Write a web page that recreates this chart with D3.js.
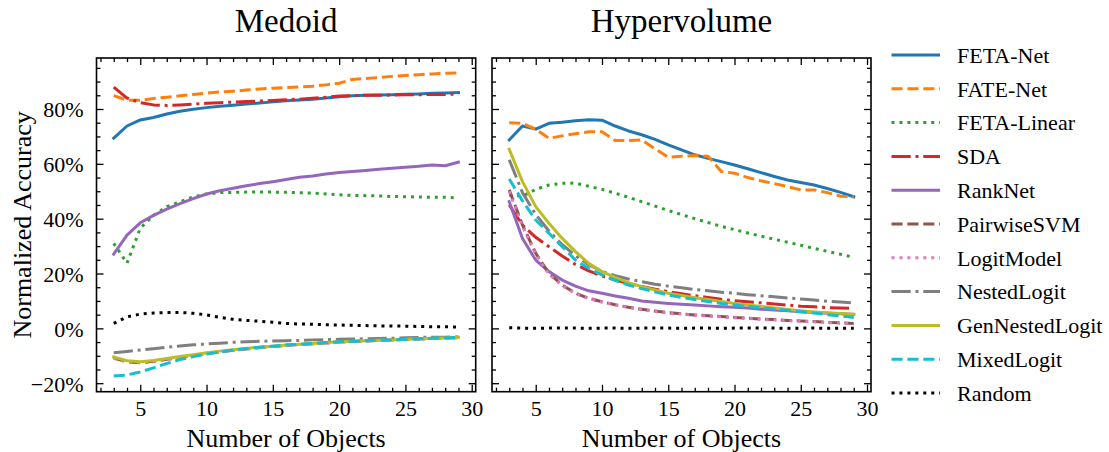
<!DOCTYPE html>
<html>
<head>
<meta charset="utf-8">
<script src="https://cdn.jsdelivr.net/npm/d3@7"></script>
<style>
    body { margin: 0; background: #fff; }
    svg text { font-family: "Liberation Serif", "Times New Roman", serif !important; fill: #000; }
</style>
</head>
<body>
<div id="chart"></div>
<script>
// x categories
const numObjects = [3, 4, 5, 6, 7, 8, 9, 10, 11, 12, 13, 14, 15, 16, 17, 18, 19, 20, 21, 22, 23, 24, 25, 26, 27, 28, 29];

const methods = ["FETA-Net", "FATE-Net", "FETA-Linear", "SDA", "RankNet", "PairwiseSVM", "LogitModel", "NestedLogit", "GenNestedLogit", "MixedLogit", "Random"];

// Medoid panel (normalized accuracy, %)
const medFetaNet = [69.4, 73.8, 76.0, 76.9, 78.2, 79.2, 79.9, 80.5, 81.0, 81.4, 81.8, 82.2, 82.6, 83.0, 83.3, 83.6, 84.0, 84.5, 84.8, 85.0, 85.1, 85.2, 85.4, 85.5, 85.7, 85.8, 86.0];
const medFateNet = [84.9, 83.2, 83.2, 83.8, 84.3, 84.8, 85.3, 85.8, 86.2, 86.5, 86.9, 87.3, 87.6, 87.8, 88.0, 88.3, 88.8, 89.4, 90.8, 91.1, 91.5, 91.9, 92.2, 92.5, 92.8, 93.0, 93.1];
const medFetaLinear = [31.0, 23.8, 36.5, 41.2, 44.4, 46.2, 47.9, 49.0, 49.5, 49.6, 49.7, 49.7, 49.7, 49.6, 49.5, 49.3, 49.0, 48.7, 48.5, 48.4, 48.3, 48.1, 48.0, 47.9, 47.8, 47.8, 47.6];
const medSDA = [88.0, 84.0, 82.3, 81.5, 81.3, 81.5, 81.8, 82.1, 82.3, 82.5, 82.7, 82.9, 83.1, 83.4, 83.6, 83.9, 84.3, 84.7, 84.9, 85.0, 85.0, 85.1, 85.2, 85.2, 85.3, 85.3, 85.4];
const medRankNet = [27.1, 34.0, 38.5, 41.2, 43.5, 45.5, 47.3, 49.0, 50.2, 51.1, 52.0, 52.8, 53.5, 54.3, 55.1, 55.6, 56.3, 56.8, 57.2, 57.6, 58.0, 58.4, 58.8, 59.1, 59.6, 59.3, 60.6];
const medPairwiseSVM = [-10.8, -12.2, -12.5, -12.0, -11.3, -10.6, -9.9, -9.2, -8.6, -8.0, -7.5, -7.0, -6.6, -6.2, -5.9, -5.6, -5.3, -5.0, -4.8, -4.6, -4.4, -4.2, -4.0, -3.9, -3.7, -3.5, -3.4];
const medLogitModel = [-10.9, -12.3, -12.5, -12.0, -11.4, -10.7, -10.0, -9.3, -8.6, -8.0, -7.5, -7.0, -6.6, -6.2, -5.9, -5.6, -5.3, -5.0, -4.8, -4.6, -4.4, -4.2, -4.0, -3.9, -3.7, -3.5, -3.4];
const medNestedLogit = [-8.9, -8.4, -7.9, -7.4, -6.9, -6.4, -6.0, -5.7, -5.4, -5.1, -4.9, -4.7, -4.6, -4.5, -4.4, -4.2, -4.1, -4.0, -3.9, -3.8, -3.7, -3.6, -3.4, -3.3, -3.2, -3.2, -3.1];
const medGenNestedLogit = [-10.4, -11.8, -12.2, -11.7, -11.0, -10.3, -9.6, -8.9, -8.3, -7.8, -7.3, -6.9, -6.5, -6.1, -5.8, -5.5, -5.2, -4.9, -4.7, -4.5, -4.3, -4.2, -4.0, -3.8, -3.6, -3.5, -3.3];
const medMixedLogit = [-17.4, -17.0, -15.9, -14.4, -12.8, -11.4, -10.3, -9.4, -8.6, -7.9, -7.3, -6.9, -6.5, -6.1, -5.8, -5.5, -5.2, -4.9, -4.7, -4.5, -4.3, -4.2, -4.0, -3.8, -3.6, -3.5, -3.3];
const medRandom = [1.8, 4.2, 5.2, 5.6, 5.8, 5.8, 5.5, 4.9, 4.0, 3.3, 2.9, 2.6, 2.2, 1.8, 1.6, 1.5, 1.3, 1.2, 1.1, 1.0, 0.9, 0.9, 0.8, 0.7, 0.6, 0.6, 0.5];

// Hypervolume panel (normalized accuracy, %)
const hvFetaNet = [68.7, 73.8, 72.7, 74.8, 75.2, 75.7, 76.1, 75.9, 73.8, 72.0, 70.6, 68.9, 66.9, 65.1, 63.3, 62.0, 60.8, 59.6, 58.2, 56.8, 55.4, 54.1, 53.2, 52.3, 51.0, 49.6, 48.0];
const hvFateNet = [75.0, 74.8, 72.6, 69.3, 70.2, 71.0, 71.7, 71.7, 68.5, 68.5, 68.7, 65.5, 62.4, 62.8, 63.0, 62.8, 57.2, 56.6, 55.0, 53.8, 52.8, 51.7, 50.5, 50.5, 49.5, 48.2, 48.0];
const hvFetaLinear = [48.5, 48.2, 50.7, 52.3, 52.9, 53.0, 51.8, 50.7, 49.3, 47.8, 46.2, 44.6, 43.0, 41.5, 40.0, 38.6, 37.2, 36.0, 34.8, 33.6, 32.5, 31.4, 30.3, 29.2, 28.1, 27.0, 25.9];
const hvSDA = [45.0, 37.7, 33.2, 29.8, 26.4, 23.3, 21.0, 19.1, 17.6, 16.4, 15.3, 14.3, 13.4, 12.6, 11.9, 11.3, 10.6, 10.1, 9.7, 9.3, 8.9, 8.5, 8.1, 7.9, 7.6, 7.4, 7.3];
const hvRankNet = [46.2, 32.8, 24.9, 20.7, 17.6, 15.4, 13.7, 12.8, 11.8, 11.0, 10.0, 9.5, 9.1, 8.8, 8.5, 8.2, 7.9, 7.7, 7.4, 7.0, 6.7, 6.4, 6.1, 5.8, 5.5, 5.3, 5.1];
const hvPairwiseSVM = [50.5, 37.7, 27.4, 20.1, 15.8, 12.8, 11.0, 9.7, 8.6, 7.7, 7.0, 6.3, 5.7, 5.3, 4.9, 4.6, 4.3, 4.0, 3.7, 3.4, 3.2, 2.9, 2.7, 2.5, 2.2, 2.0, 1.8];
const hvLogitModel = [50.0, 37.2, 27.0, 19.8, 15.6, 12.6, 10.9, 9.6, 8.5, 7.6, 6.9, 6.2, 5.6, 5.2, 4.8, 4.5, 4.2, 3.9, 3.6, 3.3, 3.1, 2.8, 2.6, 2.4, 2.1, 1.9, 1.7];
const hvNestedLogit = [61.5, 49.5, 41.5, 35.5, 30.5, 26.5, 23.2, 20.8, 19.2, 18.0, 17.0, 16.1, 15.4, 14.8, 14.2, 13.7, 13.2, 12.8, 12.3, 11.9, 11.5, 11.1, 10.7, 10.3, 9.9, 9.6, 9.3];
const hvGenNestedLogit = [65.3, 53.5, 44.4, 38.3, 32.8, 28.0, 23.7, 20.7, 18.6, 16.7, 15.2, 14.0, 12.8, 12.0, 11.2, 10.5, 9.8, 9.1, 8.5, 8.0, 7.4, 6.9, 6.4, 6.0, 5.7, 5.4, 5.2];
const hvMixedLogit = [54.5, 46.5, 39.5, 34.7, 29.8, 24.9, 21.9, 19.5, 17.5, 15.8, 14.5, 13.3, 12.2, 11.3, 10.5, 9.8, 9.1, 8.5, 8.0, 7.5, 7.1, 6.6, 6.1, 5.6, 5.0, 4.5, 4.0];
const hvRandom = [0.2, 0.1, 0.0, 0.1, 0.1, 0.1, 0.0, 0.1, 0.1, 0.0, 0.1, 0.1, 0.1, 0.0, 0.1, 0.1, 0.0, 0.1, 0.1, 0.1, 0.1, 0.0, 0.1, 0.1, 0.0, 0.1, 0.0];

// axis ticks
const xMajorTicks = [5, 10, 15, 20, 25, 30];
const yMajorTicks = [-20, 0, 20, 40, 60, 80];

document.addEventListener("DOMContentLoaded", function () {
    const w = 1109;
    const h = 452;
    const top = 58, bottom = 391.7;
    const lw = 3;
    const serif = "'Liberation Serif', 'Times New Roman', serif";

    const colors = ["#1f77b4", "#ff7f0e", "#2ca02c", "#d62728", "#9467bd", "#8c564b", "#e377c2", "#7f7f7f", "#bcbd22", "#17becf", "#000000"];
    const solid = null;
    const dashed = [3.7 * lw, 1.6 * lw].join(",");
    const dotted = [1 * lw, 1.65 * lw].join(",");
    const dashdot = [6.4 * lw, 1.6 * lw, 1 * lw, 1.6 * lw].join(",");
    const dashes = [solid, dashed, dotted, dashdot, solid, dashed, dotted, dashdot, solid, dashed, dotted];

    const panels = [
        { title: "Medoid", left: 96.5, right: 475.7, showY: true,
          values: [medFetaNet, medFateNet, medFetaLinear, medSDA, medRankNet, medPairwiseSVM, medLogitModel, medNestedLogit, medGenNestedLogit, medMixedLogit, medRandom] },
        { title: "Hypervolume", left: 492, right: 871, showY: false,
          values: [hvFetaNet, hvFateNet, hvFetaLinear, hvSDA, hvRankNet, hvPairwiseSVM, hvLogitModel, hvNestedLogit, hvGenNestedLogit, hvMixedLogit, hvRandom] }
    ];

    const svg = d3.select("#chart").append("svg").attr("width", w).attr("height", h)
        .style("display", "block").style("background", "#fff");

    const yScale = d3.scaleLinear().domain([-23.1, 98.6]).range([bottom, top]);
    const xMinor = d3.range(2, 31);
    const yMinor = d3.range(-20, 100, 5).filter(v => v % 20 !== 0);

    panels.forEach(p => {
        const xScale = d3.scaleLinear().domain([1.7, 30.3]).range([p.left, p.right]);
        const g = svg.append("g");

        // lines
        const line = d3.line().x((d, i) => xScale(numObjects[i])).y(d => yScale(d));
        p.values.forEach((vals, k) => {
            g.append("path")
                .datum(vals)
                .attr("d", line)
                .attr("fill", "none")
                .attr("stroke", colors[k])
                .attr("stroke-width", lw)
                .attr("stroke-dasharray", dashes[k])
                .attr("stroke-linejoin", "round")
                .attr("stroke-linecap", dashes[k] ? "butt" : "square");
        });

        // axes (inward ticks on all sides)
        const fmtPct = d => (d < 0 ? "\u2212" + Math.abs(d) : d) + "%";
        const addAxis = (axis, transform) => {
            const a = g.append("g").attr("transform", transform).call(axis).attr("font-family", serif);
            a.select(".domain").remove();
            a.selectAll("line").attr("stroke", "#000").attr("stroke-width", 1.3);
            return a;
        };
        const xb = addAxis(d3.axisBottom(xScale).tickValues(xMajorTicks).tickSizeInner(-7).tickSizeOuter(0).tickPadding(9), `translate(0,${bottom})`);
        xb.selectAll("text").style("font-size", "22px");
        addAxis(d3.axisBottom(xScale).tickValues(xMinor.filter(v => v % 5 !== 0)).tickSizeInner(-4).tickFormat(""), `translate(0,${bottom})`);
        addAxis(d3.axisTop(xScale).tickValues(xMajorTicks).tickSizeInner(-7).tickFormat(""), `translate(0,${top})`);
        addAxis(d3.axisTop(xScale).tickValues(xMinor.filter(v => v % 5 !== 0)).tickSizeInner(-4).tickFormat(""), `translate(0,${top})`);

        const yl = addAxis(d3.axisLeft(yScale).tickValues(yMajorTicks).tickSizeInner(-7).tickPadding(13)
            .tickFormat(p.showY ? fmtPct : ""), `translate(${p.left},0)`);
        yl.selectAll("text").style("font-size", "22px").attr("dy", "0.36em");
        addAxis(d3.axisLeft(yScale).tickValues(yMinor).tickSizeInner(-4).tickFormat(""), `translate(${p.left},0)`);
        addAxis(d3.axisRight(yScale).tickValues(yMajorTicks).tickSizeInner(-7).tickFormat(""), `translate(${p.right},0)`);
        addAxis(d3.axisRight(yScale).tickValues(yMinor).tickSizeInner(-4).tickFormat(""), `translate(${p.right},0)`);

        // frame
        g.append("rect")
            .attr("x", p.left).attr("y", top)
            .attr("width", p.right - p.left).attr("height", bottom - top)
            .attr("fill", "none").attr("stroke", "#000").attr("stroke-width", 1.6);

        // title and x label
        g.append("text").attr("x", (p.left + p.right) / 2).attr("y", 32)
            .attr("text-anchor", "middle").style("font-size", "33px").text(p.title);
        g.append("text").attr("x", (p.left + p.right) / 2).attr("y", 447)
            .attr("text-anchor", "middle").style("font-size", "26px").text("Number of Objects");
    });

    // y label
    svg.append("text").attr("transform", "translate(31," + (top + bottom) / 2 + ") rotate(-90)")
        .attr("text-anchor", "middle").style("font-size", "26px").text("Normalized Accuracy");

    // legend
    const legend = svg.append("g");
    methods.forEach((m, k) => {
        const y = 55 + k * 33.8;
        legend.append("line")
            .attr("x1", 891.5).attr("x2", 940).attr("y1", y).attr("y2", y)
            .attr("stroke", colors[k]).attr("stroke-width", lw)
            .attr("stroke-dasharray", dashes[k]);
        legend.append("text").attr("x", 957).attr("y", y).attr("dy", "0.35em")
            .style("font-size", "22px").text(m);
    });

    svg.selectAll("text").style("font-family", serif);
});
</script>
</body>
</html>
